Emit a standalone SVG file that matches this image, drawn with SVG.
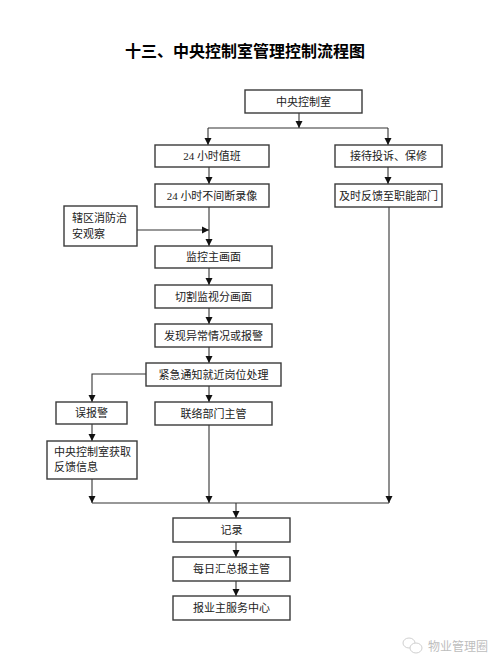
<svg xmlns="http://www.w3.org/2000/svg" width="503" height="666" viewBox="0 0 503 666">
<defs>
<marker id="ah" markerWidth="8" markerHeight="8" refX="7" refY="4" orient="auto" markerUnits="userSpaceOnUse">
<path d="M0,0.5 L7,4 L0,7.5 Z" fill="#111"/>
</marker>
<style>
.box{fill:#fff;stroke:#3a3a3a;stroke-width:1.4}
.t{font-family:"Liberation Serif","Noto Sans CJK SC",serif;font-size:11px;fill:#222;text-anchor:middle}
.tl{font-family:"Liberation Serif","Noto Sans CJK SC",serif;font-size:11px;fill:#222}
.ln{fill:none;stroke:#333;stroke-width:1.1}
.ar{fill:none;stroke:#333;stroke-width:1.1;marker-end:url(#ah)}
</style>
</defs>
<rect width="503" height="666" fill="#fff"/>
<text x="245" y="57" font-family="'Liberation Serif','Noto Sans CJK SC',serif" font-size="16" font-weight="bold" text-anchor="middle" fill="#000">十三、中央控制室管理控制流程图</text>

<g id="connectors">
<path class="ar" d="M299,113 V128"/>
<path class="ln" d="M208,128 H388"/>
<path class="ar" d="M208,128 V145"/>
<path class="ar" d="M388,128 V145"/>
<path class="ar" d="M209,167 V184"/>
<path class="ar" d="M388,167 V184"/>
<path class="ar" d="M209,207 V246"/>
<path class="ar" d="M137,230 H209"/>
<path class="ar" d="M209,268 V285"/>
<path class="ar" d="M209,308 V324"/>
<path class="ar" d="M209,347 V363"/>
<path class="ar" d="M146,374 H92 V402"/>
<path class="ar" d="M209,386 V402"/>
<path class="ar" d="M92,424 V441"/>
<path class="ar" d="M92,479 V503"/>
<path class="ar" d="M209,425 V503"/>
<path class="ar" d="M389,207 V503"/>
<path class="ln" d="M92,503 H389"/>
<path class="ar" d="M236,503 V518"/>
<path class="ar" d="M236,542 V557"/>
<path class="ar" d="M236,581 V596"/>
</g>

<g id="n1"><rect class="box" x="245" y="90" width="117" height="23"/><text class="t" x="303.5" y="105.5">中央控制室</text></g>
<g id="n2"><rect class="box" x="155" y="145" width="114" height="22"/><text class="t" x="212" y="160">24 小时值班</text></g>
<g id="n3"><rect class="box" x="335" y="145" width="107" height="22"/><text class="t" x="388.5" y="160">接待投诉、保修</text></g>
<g id="n4"><rect class="box" x="155" y="184" width="114" height="23"/><text class="t" x="212" y="199.5">24 小时不间断录像</text></g>
<g id="n5"><rect class="box" x="335" y="184" width="107" height="23"/><text class="t" x="388.5" y="199.5">及时反馈至职能部门</text></g>
<g id="n6"><rect class="box" x="64" y="206" width="73" height="40"/><text class="tl" x="72" y="222">辖区消防治</text><text class="tl" x="72" y="238">安观察</text></g>
<g id="n7"><rect class="box" x="155" y="246" width="117" height="22"/><text class="t" x="213.5" y="261">监控主画面</text></g>
<g id="n8"><rect class="box" x="155" y="285" width="117" height="23"/><text class="t" x="213.5" y="300.5">切割监视分画面</text></g>
<g id="n9"><rect class="box" x="155" y="324" width="117" height="23"/><text class="t" x="213.5" y="339.5">发现异常情况或报警</text></g>
<g id="n10"><rect class="box" x="146" y="363" width="135" height="23"/><text class="t" x="213.5" y="378.5">紧急通知就近岗位处理</text></g>
<g id="n11"><rect class="box" x="56" y="402" width="71" height="22"/><text class="t" x="91.5" y="417">误报警</text></g>
<g id="n12"><rect class="box" x="155" y="402" width="117" height="23"/><text class="t" x="213.5" y="417.5">联络部门主管</text></g>
<g id="n13"><rect class="box" x="47" y="441" width="90" height="38"/><text class="tl" x="54" y="456">中央控制室获取</text><text class="tl" x="54" y="471">反馈信息</text></g>
<g id="n14"><rect class="box" x="173" y="518" width="117" height="24"/><text class="t" x="231.5" y="534">记录</text></g>
<g id="n15"><rect class="box" x="173" y="557" width="117" height="24"/><text class="t" x="231.5" y="573">每日汇总报主管</text></g>
<g id="n16"><rect class="box" x="173" y="596" width="117" height="24"/><text class="t" x="231.5" y="612">报业主服务中心</text></g>

<g id="watermark" opacity="0.55">
<ellipse cx="409" cy="643" rx="6" ry="5" fill="none" stroke="#aaa" stroke-width="1"/>
<ellipse cx="416" cy="648" rx="6" ry="5" fill="#fff" stroke="#aaa" stroke-width="1"/>
<text x="428" y="651" font-family="'Noto Sans CJK SC',sans-serif" font-size="12" fill="#888">物业管理圈</text>
</g>
</svg>
